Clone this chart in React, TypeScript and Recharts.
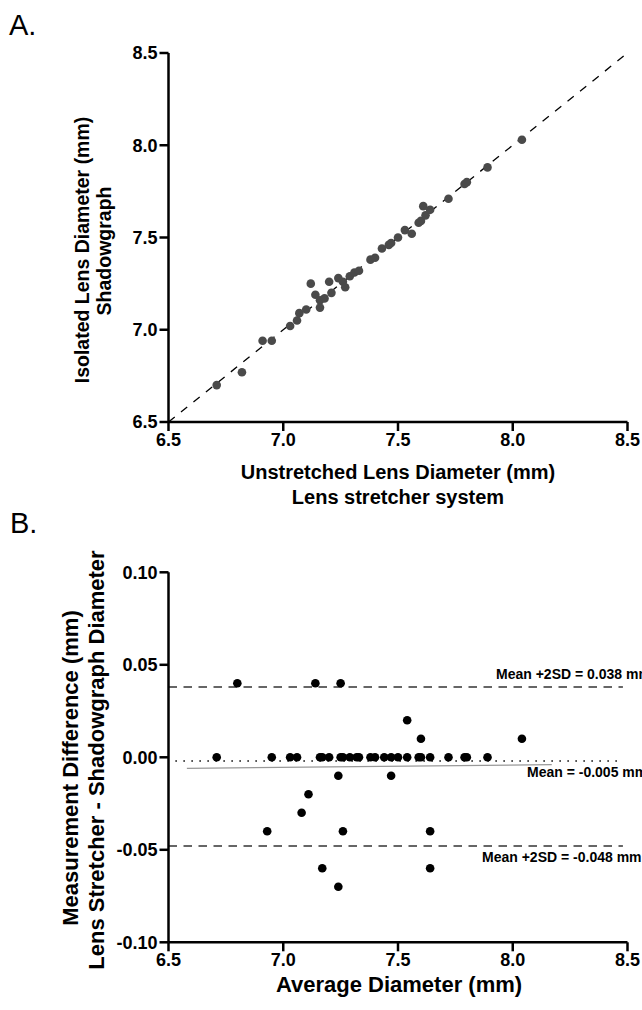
import React from "react";
import {
  ScatterChart,
  Scatter,
  XAxis,
  YAxis,
  ReferenceLine,
} from "recharts";

const FONT = "'Liberation Sans', Arial, sans-serif";

// Panel A: unstretched diameter (lens stretcher) vs isolated diameter (shadowgraph), mm
const stretcherDiam = [
  6.71, 6.82, 6.91, 6.95, 7.03, 7.06, 7.07, 7.1, 7.12, 7.14, 7.16, 7.16, 7.18,
  7.2, 7.21, 7.24, 7.26, 7.27, 7.29, 7.31, 7.33, 7.38, 7.4, 7.43, 7.46, 7.47,
  7.5, 7.53, 7.56, 7.59, 7.6, 7.62, 7.61, 7.64, 7.72, 7.79, 7.8, 7.89, 8.04,
];
const shadowDiam = [
  6.7, 6.77, 6.94, 6.94, 7.02, 7.05, 7.09, 7.11, 7.25, 7.19, 7.16, 7.12, 7.17,
  7.26, 7.2, 7.28, 7.26, 7.23, 7.29, 7.31, 7.32, 7.38, 7.39, 7.44, 7.46, 7.47,
  7.5, 7.54, 7.52, 7.58, 7.59, 7.62, 7.67, 7.65, 7.71, 7.79, 7.8, 7.88, 8.03,
];

// Panel B: Bland-Altman, average diameter vs difference (mm)
const avgDiam = [
  6.8, 7.14, 7.25, 7.54, 7.6, 8.04,
  6.71, 6.95, 7.03, 7.06, 7.16, 7.17, 7.2, 7.25, 7.26, 7.29, 7.32, 7.33,
  7.38, 7.4, 7.44, 7.47, 7.5, 7.54, 7.59, 7.6, 7.64, 7.72, 7.79, 7.8, 7.89,
  7.24, 7.47, 7.11, 7.08, 6.93, 7.26, 7.64, 7.17, 7.64, 7.24,
];
const diffMm = [
  0.04, 0.04, 0.04, 0.02, 0.01, 0.01,
  0, 0, 0, 0, 0, 0, 0, 0, 0, 0, 0, 0,
  0, 0, 0, 0, 0, 0, 0, 0, 0, 0, 0, 0, 0,
  -0.01, -0.01, -0.02, -0.03, -0.04, -0.04, -0.04, -0.06, -0.06, -0.07,
];

const diamTicks = [6.5, 7.0, 7.5, 8.0, 8.5];
const diffTicks = [-0.1, -0.05, 0, 0.05, 0.1];

const upperLimit = 0.038;
const lowerLimit = -0.048;
const meanDotted = -0.002;
const meanLine = [
  { x: 6.58, y: -0.006 },
  { x: 8.17, y: -0.004 },
];

const dataA = stretcherDiam.map((x, i) => ({ x, y: shadowDiam[i] }));
const dataB = avgDiam.map((x, i) => ({ x, y: diffMm[i] }));

const axisStyle = { stroke: "#000", strokeWidth: 2.5 };
const tickStyle = { fill: "#000", fontSize: 18, fontWeight: 700, fontFamily: FONT };

const Dot = ({ cx, cy, fill }: any) => <circle cx={cx} cy={cy} r={4.3} fill={fill} />;

export default function App() {
  const bold = { fontFamily: FONT, fontWeight: 700, fill: "#000" } as any;
  return (
    <div
      style={{
        position: "absolute",
        left: 0,
        top: 0,
        width: 642,
        height: 1010,
        overflow: "hidden",
        background: "#fff",
      }}
    >
      <div style={{ position: "absolute", left: 0, top: 0 }}>
        <ScatterChart width={642} height={500} margin={{ top: 53, right: 14.5, bottom: 48, left: 118.5 }}>
          <XAxis
            type="number"
            dataKey="x"
            domain={[6.5, 8.5]}
            ticks={diamTicks}
            tickFormatter={(v: number) => v.toFixed(1)}
            height={30}
            axisLine={axisStyle}
            tickLine={axisStyle}
            tickSize={9}
            tick={tickStyle}
            allowDataOverflow
          />
          <YAxis
            type="number"
            dataKey="y"
            domain={[6.5, 8.5]}
            ticks={diamTicks}
            tickFormatter={(v: number) => v.toFixed(1)}
            width={50}
            axisLine={axisStyle}
            tickLine={axisStyle}
            tickSize={9}
            tick={tickStyle}
            allowDataOverflow
          />
          <ReferenceLine
            segment={[
              { x: 6.5, y: 6.5 },
              { x: 8.5, y: 8.5 },
            ]}
            stroke="#000"
            strokeWidth={1.3}
            strokeDasharray="8 8"
          />
          <Scatter data={dataA} fill="#4a4a4a" shape={<Dot />} isAnimationActive={false} />
        </ScatterChart>
      </div>

      <div style={{ position: "absolute", left: 0, top: 500 }}>
        <ScatterChart width={642} height={510} margin={{ top: 72.3, right: 14.5, bottom: 37.7, left: 108.5 }}>
          <XAxis
            type="number"
            dataKey="x"
            domain={[6.5, 8.5]}
            ticks={diamTicks}
            tickFormatter={(v: number) => v.toFixed(1)}
            height={30}
            axisLine={axisStyle}
            tickLine={axisStyle}
            tickSize={9}
            tick={tickStyle}
            allowDataOverflow
          />
          <YAxis
            type="number"
            dataKey="y"
            domain={[-0.1, 0.1]}
            ticks={diffTicks}
            tickFormatter={(v: number) => v.toFixed(2)}
            width={60}
            axisLine={axisStyle}
            tickLine={axisStyle}
            tickSize={9}
            tick={tickStyle}
            allowDataOverflow
          />
          <ReferenceLine
            segment={[
              { x: 6.5, y: upperLimit },
              { x: 8.48, y: upperLimit },
            ]}
            stroke="#666"
            strokeWidth={2}
            strokeDasharray="8.5 6.5"
          />
          <ReferenceLine
            segment={[
              { x: 6.5, y: lowerLimit },
              { x: 8.48, y: lowerLimit },
            ]}
            stroke="#666"
            strokeWidth={2}
            strokeDasharray="8.5 6.5"
          />
          <ReferenceLine
            segment={[
              { x: 6.53, y: meanDotted },
              { x: 8.48, y: meanDotted },
            ]}
            stroke="#000"
            strokeWidth={1.6}
            strokeDasharray="1.5 6.5"
          />
          <ReferenceLine segment={meanLine} stroke="#999" strokeWidth={1.2} />
          <Scatter data={dataB} fill="#000" shape={<Dot />} isAnimationActive={false} />
        </ScatterChart>
      </div>

      <svg
        width={642}
        height={1010}
        style={{ position: "absolute", left: 0, top: 0, pointerEvents: "none" }}
      >
        <text x={9} y={35} fontFamily={FONT} fontSize={29} fill="#000">A.</text>
        <text x={10} y={533} fontFamily={FONT} fontSize={29} fill="#000">B.</text>

        <text {...bold} fontSize={20} x={398} y={479} textAnchor="middle">
          Unstretched Lens Diameter (mm)
        </text>
        <text {...bold} fontSize={20} x={398} y={504} textAnchor="middle">
          Lens stretcher system
        </text>
        <text {...bold} fontSize={19.5} transform="translate(89 250) rotate(-90)" textAnchor="middle">
          Isolated Lens Diameter (mm)
        </text>
        <text {...bold} fontSize={19.5} transform="translate(111 251) rotate(-90)" textAnchor="middle">
          Shadowgraph
        </text>

        <text {...bold} fontSize={22} x={399} y={992} textAnchor="middle">
          Average Diameter (mm)
        </text>
        <text {...bold} fontSize={22} transform="translate(78 768) rotate(-90)" textAnchor="middle">
          Measurement Difference (mm)
        </text>
        <text {...bold} fontSize={22} transform="translate(104 760) rotate(-90)" textAnchor="middle">
          Lens Stretcher - Shadowgraph Diameter
        </text>

        <text {...bold} fontSize={14} x={496} y={679}>Mean +2SD = 0.038 mm</text>
        <text {...bold} fontSize={14} x={527} y={777}>Mean = -0.005 mm</text>
        <text {...bold} fontSize={14} x={482} y={862}>Mean +2SD = -0.048 mm</text>
      </svg>
    </div>
  );
}
